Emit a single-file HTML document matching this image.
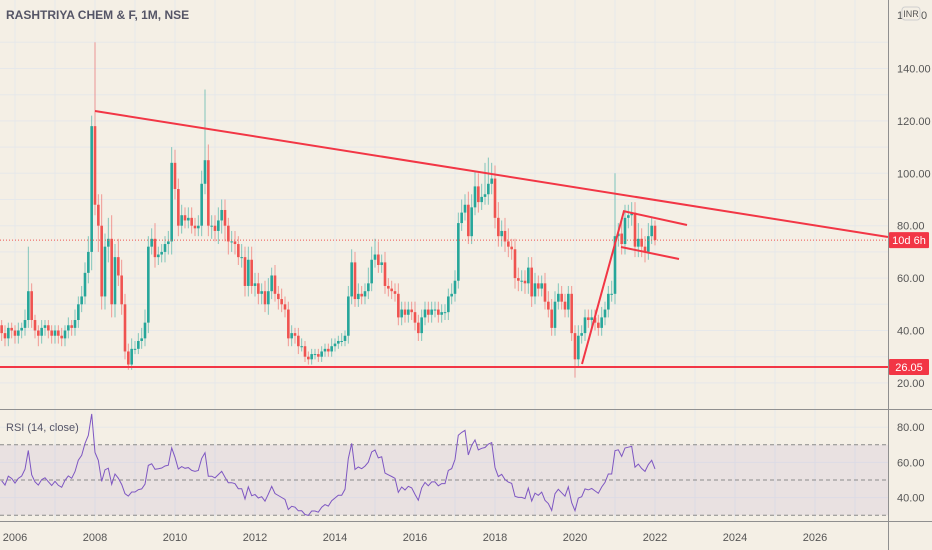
<!DOCTYPE html>
<html><head><meta charset="utf-8">
<style>
html,body{margin:0;padding:0;background:#f4efe5;}
svg{display:block;font-family:"Liberation Sans",sans-serif;}
</style></head>
<body>
<svg id="chart" width="932" height="550" viewBox="0 0 932 550" xmlns="http://www.w3.org/2000/svg">
<rect x="0" y="0" width="932" height="550" fill="#f4efe5"/>
<g id="grid"></g>
<g id="rsiband"></g>
<g id="candles"></g>
<g id="draw"></g>
<g id="rsi"></g>
<g id="axes"></g>
<text x="6" y="19" font-size="12" font-weight="bold" fill="#555566">RASHTRIYA CHEM &amp; F, 1M, NSE</text>
<text x="6" y="431" font-size="11" fill="#555566">RSI (14, close)</text>
</svg>
<script>
const startYear = 2005 + 7/12;
const closes = [
42,39,37,41,40,
38,40,41,44,55,44,40,38,41,42,40,38,
40,38,37,40,42,41,44,50,53,62,70,118,
88,80,53,72,75,50,68,61,50,32,27,33,
33,36,37,43,72,75,68,69,70,73,74,104,
94,80,84,82,83,80,79,80,96,105,80,80,
78,82,86,80,74,74,73,68,68,57,67,57,
58,54,55,50,55,61,54,52,50,48,37,39,
38,34,34,30,29,31,31,30,32,33,32,34,
35,36,36,38,53,66,52,54,53,55,58,67,
69,65,66,57,56,55,54,45,48,46,48,47,
43,39,45,48,46,48,48,46,47,47,53,54,
59,81,85,88,76,87,95,89,91,92,96,98,
83,76,78,74,72,71,60,59,59,58,64,53,
58,56,58,51,48,41,51,54,51,48,54,39,
29,38,39,45,44,45,43,41,45,48,54,54,
76,77,73,83,84,85,72,75,72,70,76,80,
74.5];
const hiExt = [
3,2,3,2,2,
2,3,2,4,17,3,2,2,3,2,2,2,
2,2,3,2,3,2,4,3,4,4,6,4,
32,4,12,5,8,9,5,7,6,4,3,4,
3,3,4,5,4,4,6,3,3,3,4,6,
5,4,4,3,4,4,3,4,5,27,6,4,
4,5,4,4,3,4,4,3,5,4,5,5,
4,4,3,4,5,3,4,3,4,3,3,3,
2,3,3,2,2,2,2,2,2,2,2,3,
2,2,3,2,4,5,4,4,3,3,6,5,
6,5,3,4,3,3,3,4,3,3,3,3,
4,3,3,3,3,3,3,3,3,3,3,4,
4,4,5,4,5,5,6,5,5,12,10,6,
5,6,4,5,5,3,4,4,4,4,4,4,
4,3,3,4,4,4,4,4,3,3,3,3,
3,4,3,3,3,3,3,3,4,3,3,5,
24,4,5,5,4,4,4,6,4,4,5,3,
2];
const loExt = [
3,3,3,3,3,
3,3,3,3,3,3,3,4,3,3,3,3,
3,3,3,3,3,3,3,3,3,3,4,7,
4,10,5,5,6,5,5,4,4,3,2,2,
2,2,3,3,4,3,4,3,3,4,4,5,
4,4,3,3,3,3,3,3,4,4,4,5,
4,5,5,6,5,4,4,3,4,4,4,3,
4,4,4,3,4,3,3,4,3,3,3,3,
3,3,2,2,2,2,2,2,2,2,2,2,
2,2,2,2,3,3,3,3,3,3,3,3,
3,3,3,3,3,3,3,3,3,3,3,3,
3,3,3,3,3,3,3,3,3,3,3,3,
3,3,3,3,3,3,3,4,3,3,4,4,
4,4,4,4,4,4,4,4,4,4,4,4,
3,3,3,3,3,3,3,3,3,3,3,3,
7,3,3,3,3,3,3,3,3,3,3,3,
4,4,4,4,4,4,4,4,4,4,3,3,
2];
const priceTicks = [20,40,60,80,100,120,140];
const rsiTicks = [40,60,80];
const yearTicks = [2006,2008,2010,2012,2014,2016,2018,2020,2022,2024,2026];
const lastLabel = "10d 6h";
const supportLevel = 26.05;

const NS = "http://www.w3.org/2000/svg";
function mk(tag, attrs, parent){const e=document.createElementNS(NS,tag);for(const k in attrs)e.setAttribute(k,attrs[k]);parent.appendChild(e);return e;}
const xT = t => 15 + (t-2006)*40;
const yP = p => 68.5 + (140-p)*2.62;
const yR = r => 480 - (r-50)*1.76;
const PLOT_R = 888;

// grid
const grid = document.getElementById('grid');
yearTicks.forEach(y=>{ for (const off of [0,1]) {
  const l = mk('line',{x1:xT(y+off),x2:xT(y+off),y1:0,y2:521,stroke:'#e6e8ea','stroke-width':1},grid);
  
  
}});
priceTicks.forEach(p=>{ [p, p+10].forEach(v=>{
  const l = mk('line',{x1:0,x2:PLOT_R,y1:yP(v),y2:yP(v),stroke:'#e6e8ea','stroke-width':1},grid);
  
  
});});
[40,60,80].forEach(v=>{
  const l = mk('line',{x1:0,x2:PLOT_R,y1:yR(v),y2:yR(v),stroke:'#e6e8ea','stroke-width':1},grid);
  
  
});

// rsi band
const band = document.getElementById('rsiband');
const br = mk('rect',{x:0,y:yR(70),width:PLOT_R,height:yR(30)-yR(70),fill:'rgba(126,87,194,0.09)'},band);


[70,50,30].forEach(v=>{
  const l = mk('line',{x1:0,x2:PLOT_R,y1:yR(v),y2:yR(v),stroke:'#8a8a8a','stroke-width':1,'stroke-dasharray':'4 3'},band);
  
  
});

// candles
const cg = document.getElementById('candles');
closes.forEach((c,i)=>{
  const o = i===0 ? c : closes[i-1];
  const hi = Math.max(o,c)+hiExt[i], lo = Math.min(o,c)-loExt[i];
  const x = xT(startYear + i/12);
  const up = c>=o;
  const col = up ? '#26a69a' : '#ef5350';
  const wick = mk('line',{x1:x,x2:x,y1:yP(hi),y2:yP(lo),stroke:col,'stroke-width':1,opacity:0.55},cg);
  
  
  const top = yP(Math.max(o,c)), bot = yP(Math.min(o,c));
  const body = mk('rect',{x:x-1.3,y:top,width:2.6,height:Math.max(1,bot-top),fill:col},cg);
  
  
});

// drawings
const dg = document.getElementById('draw');
const RED='#f23645';
function dl(x1,y1,x2,y2,name,extra){
  const l = mk('line',Object.assign({x1,y1,x2,y2,stroke:RED,'stroke-width':2},extra||{}),dg);
  
  
}
const lastC = closes[closes.length-1];
dl(0,yP(lastC),PLOT_R,yP(lastC),'last-price-line',{'stroke-width':1,'stroke-dasharray':'1 2',stroke:'#ef5350'});
dl(95,111,PLOT_R,237,'descending-trendline');
dl(0,yP(supportLevel),PLOT_R,yP(supportLevel),'support-line');
dl(582,364,624,211,'rally-line');
dl(623,211,687,225,'flag-upper-line');
dl(621,247,679,259,'flag-lower-line');

// RSI computed from closes (Wilder smoothing, neutral seed)
const rsiVals = [];
(function(){
  let ag=1.6, al=1.4; const n=14;
  for(let i=1;i<closes.length;i++){
    const d = closes[i]-closes[i-1];
    const g = Math.max(d,0), l = Math.max(-d,0);
    ag = (ag*(n-1)+g)/n; al = (al*(n-1)+l)/n;
    rsiVals.push({i, v: al===0?100:100-100/(1+ag/al)});
  }
})();
const rg = document.getElementById('rsi');
const pts = rsiVals.map(r=>xT(startYear+r.i/12).toFixed(1)+','+yR(r.v).toFixed(1)).join(' ');
const pl = mk('polyline',{points:pts,fill:'none',stroke:'#7e57c2','stroke-width':1},rg);



// axes
const ax = document.getElementById('axes');
const sep1 = mk('line',{x1:0,x2:932,y1:409.5,y2:409.5,stroke:'#8f8f8f','stroke-width':1},ax);


const sep2 = mk('line',{x1:0,x2:932,y1:521.5,y2:521.5,stroke:'#8f8f8f','stroke-width':1},ax);


const vs = mk('line',{x1:888.5,x2:888.5,y1:0,y2:550,stroke:'#8f8f8f','stroke-width':1},ax);


priceTicks.forEach(p=>{
  const t = mk('text',{x:897,y:yP(p)+4,'font-size':11,fill:'#555'},ax);
  t.textContent = p.toFixed(2);
  
  
});
rsiTicks.forEach(v=>{
  const t = mk('text',{x:897,y:yR(v)+4,'font-size':11,fill:'#555'},ax);
  t.textContent = v.toFixed(2);
  
  
});
yearTicks.forEach(y=>{
  const t = mk('text',{x:xT(y),y:541,'font-size':11,fill:'#555','text-anchor':'middle'},ax);
  t.textContent = y;
  
  
});
// price badges
function badge(y,txt,name){
  const r = mk('rect',{x:889,y:y-8,width:40,height:16,fill:'#f23645',rx:1},ax);
  
  
  const t = mk('text',{x:909,y:y+4,'font-size':11,fill:'#fff','text-anchor':'middle'},ax);
  t.textContent = txt;
  
  
}
badge(yP(lastC),lastLabel,'countdown-badge');
badge(yP(supportLevel),supportLevel.toFixed(2),'support-price-badge');
// INR currency box
const t1 = mk('text',{x:897,y:19,'font-size':11,fill:'#555'},ax);
t1.textContent='1';


const ib = mk('rect',{x:902,y:7,width:18,height:13,rx:3,fill:'#f4efe5',stroke:'#cfcfcf'},ax);


const it = mk('text',{x:911,y:17,'font-size':9,fill:'#555','text-anchor':'middle'},ax);
it.textContent='INR';


const t0 = mk('text',{x:921,y:19,'font-size':11,fill:'#555'},ax);
t0.textContent='0';


</script>
</body></html>
